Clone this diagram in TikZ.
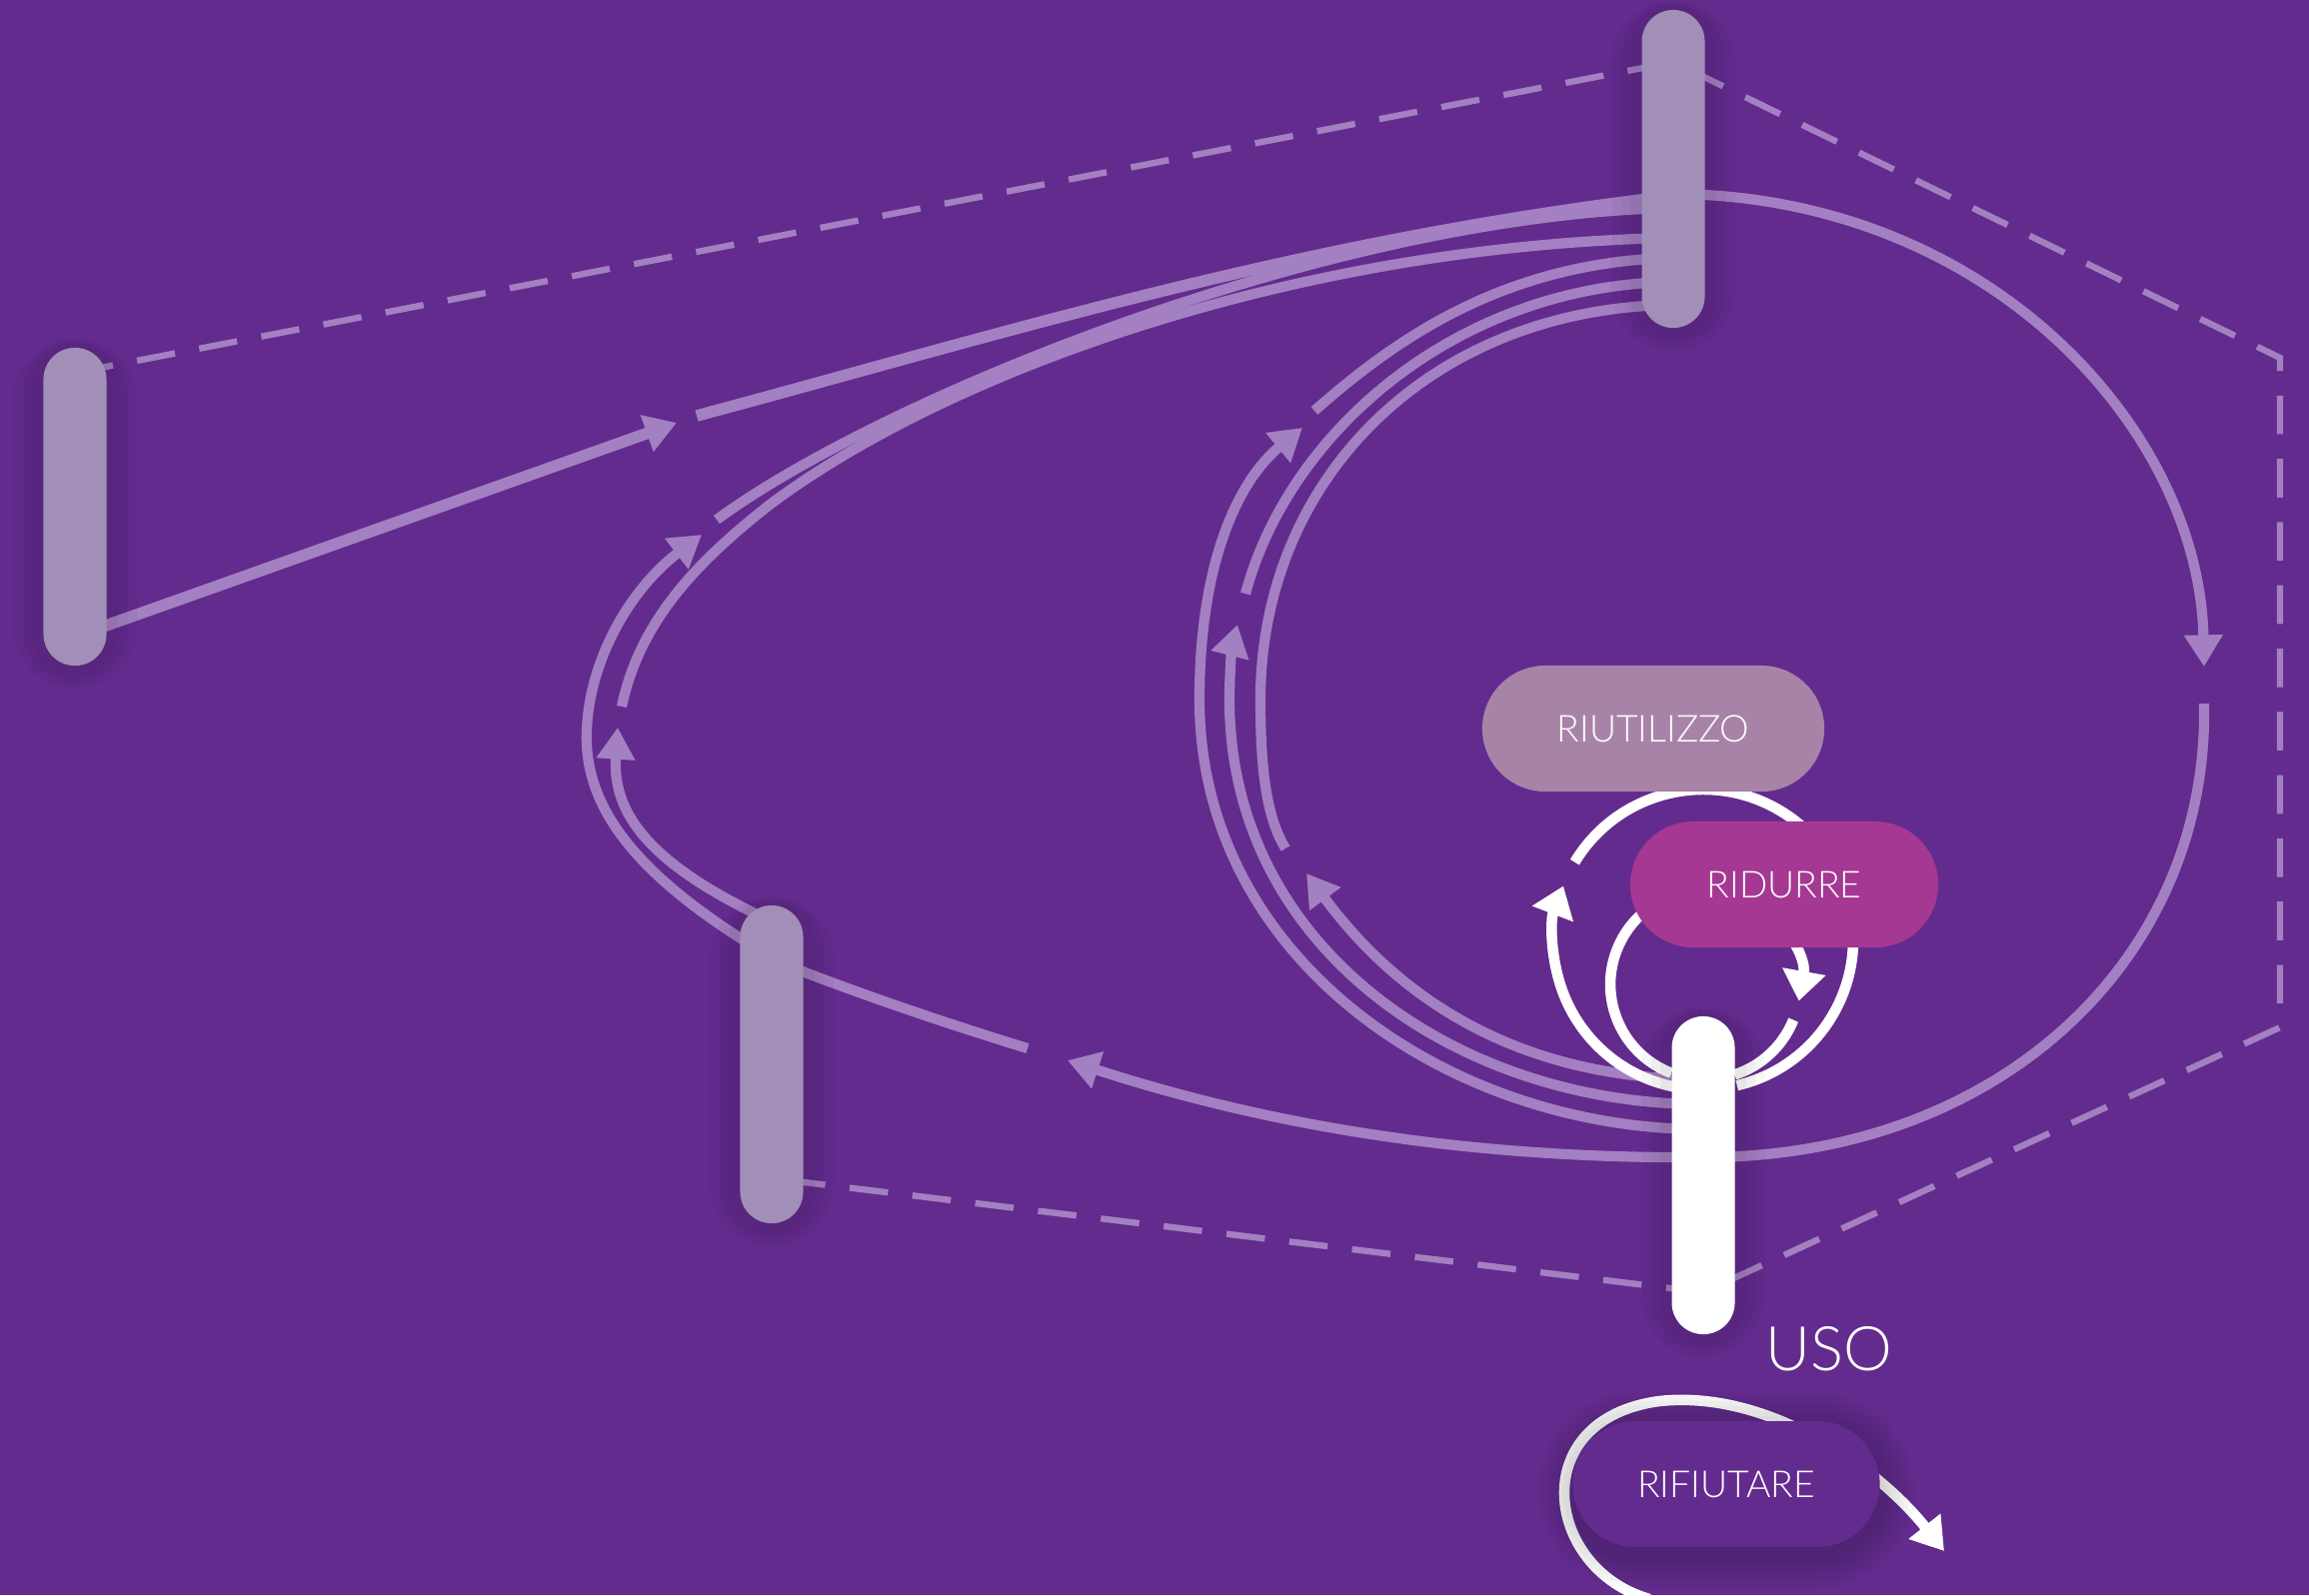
\documentclass[tikz,border=0pt]{standalone}
\usepackage{fontspec}
\newfontfamily\lightfont{Lato Light}
\usetikzlibrary{arrows.meta}
\definecolor{bg}{RGB}{99,43,142}
\definecolor{lineC}{RGB}{163,128,193}
\definecolor{barC}{RGB}{161,143,183}
\definecolor{reuseC}{RGB}{168,131,168}
\definecolor{reduceC}{RGB}{165,56,146}
\pgfdeclarelayer{bglayer}
\pgfdeclarelayer{lines}
\pgfdeclarelayer{shade}
\pgfsetlayers{bglayer,lines,shade,main}
\begin{document}
\begin{tikzpicture}[x=0.01cm,y=-0.01cm,
  bar/.style={rectangle, fill=barC, minimum width=0.63cm, minimum height=3.18cm, rounded corners=0.315cm, inner sep=0pt},
  pill/.style={rectangle, rounded corners=0.63cm, minimum height=1.26cm, inner sep=0pt, text=white, font=\lightfont\fontsize{10.6pt}{13pt}\selectfont},
  flow/.style={draw=lineC, line width=2.9pt},
  thickflow/.style={draw=lineC, line width=3.3pt},
  tipL/.style={-{Triangle[length=9pt,width=10.5pt]}},
  wline/.style={draw=white, line width=3pt},
  tipW/.style={-{Triangle[length=8.5pt,width=12pt]}},
  dashline/.style={draw=lineC, line width=1.8pt, dash pattern=on 11pt off 7pt},
  shadowlayer/.style={fill=black, fill opacity=#1},
  barshade/.pic={
    \fill[shadowlayer=0.03, rounded corners=0.62cm] (-62,-168) rectangle (62,182);
    \fill[shadowlayer=0.03, rounded corners=0.52cm] (-52,-166) rectangle (52,176);
    \fill[shadowlayer=0.035, rounded corners=0.43cm] (-43,-164) rectangle (43,171);
  },
]
\begin{pgfonlayer}{bglayer}
\fill[bg] (0,0) rectangle (2310,1596);
\end{pgfonlayer}
\useasboundingbox (0,0) rectangle (2310,1596);

% bars
\node[bar] (LB) at (75,507) {};
\node[bar] (TB) at (1674,169) {};
\node[bar] (MB) at (772,1065) {};

% junction coordinates of the dashed box
\coordinate (dA) at (75,373);
\coordinate (dB) at (1674,62);
\coordinate (dC) at (2281,358);
\coordinate (dD) at (2281,1028);
\coordinate (dE) at (1704,1293);
\coordinate (dF) at (772,1179);

\begin{pgfonlayer}{shade}
\pic at (LB.center) {barshade};
\pic at (TB.center) {barshade};
\pic at (MB.center) {barshade};
\pic at (1704,1176) {barshade};
\end{pgfonlayer}

\begin{pgfonlayer}{lines}
% dashed box
\draw[dashline] (dA) -- (dB) -- (dC) -- (dD) -- (dE) -- (dF);
% line A
\draw[thickflow, tipL] (75,637) -- (677,423);
\draw[thickflow] (697,416) .. controls (1000,335) and (1300,240) .. (1674,196);
% big loop B
\draw[flow, tipL] (1674,194) .. controls (1990,196) and (2200,430) .. (2205,667);
\draw[flow, tipL] (2205,704) .. controls (2210,960) and (2000,1158) .. (1704,1158)
   .. controls (1450,1160) and (1250,1120) .. (1068,1061);
\draw[flow] (1028,1049) .. controls (950,1025) and (860,995) .. (772,960);
% left loop L1 (outer)
\draw[flow, tipL] (772,958) .. controls (640,880) and (583,810) .. (587,730)
   .. controls (590,660) and (630,590) .. (702,535);
\draw[flow] (717,520) .. controls (880,400) and (1330,215) .. (1674,208);
% left loop L2 (inner)
\draw[flow, tipL] (772,922) .. controls (660,870) and (612,820) .. (618,728);
\draw[flow] (622,707) .. controls (640,620) and (700,560) .. (770,505)
   .. controls (950,370) and (1300,245) .. (1674,238);
% right loop Ra (outer)
\draw[flow, tipL] (1704,1130) .. controls (1450,1130) and (1200,960) .. (1200,700)
   .. controls (1200,560) and (1240,480) .. (1303,428);
\draw[flow] (1315,411) .. controls (1390,345) and (1500,262) .. (1674,258);
% right loop Rb
\draw[flow, tipL] (1704,1105) .. controls (1460,1105) and (1230,950) .. (1230,700)
   .. controls (1230,670) and (1233,645) .. (1238,625);
\draw[flow] (1246,594) .. controls (1290,430) and (1460,285) .. (1674,282);
% right loop Rc (inner)
\draw[flow, tipL] (1704,1080) .. controls (1520,1080) and (1400,1000) .. (1307,874);
\draw[flow] (1286,849) .. controls (1265,815) and (1261,760) .. (1261,700)
   .. controls (1261,480) and (1430,308) .. (1674,305);
% white circles
\draw[wline, tipW] (1678,1088) arc[start angle=100, end angle=201, radius=150];
\draw[wline] (1575.4,862.7) arc[start angle=211, end angle=437, radius=150];
\draw[wline, tipW] (1672,1073.7) arc[start angle=111, end angle=370, radius=95];
\draw[wline] (1794.1,1020.6) arc[start angle=22, end angle=72, radius=95];
% refuse arrow
\draw[wline, line width=3pt, -{Triangle[length=9pt,width=11pt]}] (1650,1600) .. controls (1545,1570) and (1525,1420) .. (1660,1402)
   .. controls (1770,1390) and (1880,1470) .. (1945,1552);
\end{pgfonlayer}

% use bar
\node[bar, fill=white] (UB) at (1704,1176) {};

% pills
\node[pill, fill=reuseC, minimum width=3.42cm] (reuse) at (1654,729) {RIUTILIZZO};
\node[pill, fill=reduceC, minimum width=3.08cm] (reduce) at (1785,885) {RIDURRE};
\foreach \s in {36,31,26,21,16,11,6} {
  \pgfmathsetmacro{\rr}{(63+\s)/100}
  \fill[shadowlayer=0.022, rounded corners=\rr cm] (1574-\s,1428-\s) rectangle (1880+\s,1554+\s);
}
\node[pill, fill=bg, minimum width=3.07cm] (refuse) at (1727,1485) {RIFIUTARE};
\node[anchor=base west, inner sep=0pt, text=white, font=\lightfont\fontsize{17.5pt}{20pt}\selectfont] (uso) at (1766,1371) {USO};
\end{tikzpicture}
\end{document}
